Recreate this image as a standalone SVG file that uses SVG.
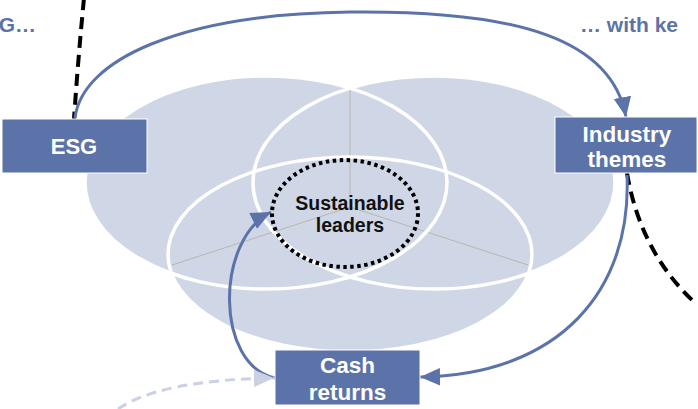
<svg xmlns="http://www.w3.org/2000/svg" width="698" height="409" viewBox="0 0 698 409">
<defs>
<style>
.venn{fill:#cfd6e6;stroke:none}
.vline{fill:none;stroke:#ffffff;stroke-width:3.5}
.axis{stroke:#b9b6ae;stroke-width:1}
.box{fill:#5b73a8;stroke:#ffffff;stroke-width:1}
.bt{font-family:"Liberation Sans",Arial,sans-serif;font-weight:bold;fill:#ffffff;text-anchor:middle}
.hd{font-family:"Liberation Sans",Arial,sans-serif;font-weight:bold;fill:#5b73a8;font-size:21px}
.arr{fill:none;stroke:#5b73a8;stroke-width:3}
.blk{fill:none;stroke:#000000;stroke-width:4;stroke-dasharray:12 7}
</style>
<marker id="ah" markerUnits="userSpaceOnUse" markerWidth="20" markerHeight="20" viewBox="0 0 16 14" refX="16" refY="7" orient="auto">
<path d="M0,0 L16,7 L0,14 Z" fill="#5b73a8"/>
</marker>
<marker id="ahl" markerUnits="userSpaceOnUse" markerWidth="20" markerHeight="20" viewBox="0 0 16 14" refX="16" refY="7" orient="auto">
<path d="M0,0 L16,7 L0,14 Z" fill="#c9d1e3"/>
</marker>
</defs>
<rect width="698" height="409" fill="#ffffff"/>
<g id="venn">
<ellipse class="venn" cx="266" cy="182.5" rx="181" ry="106.6"/>
<ellipse class="venn" cx="434" cy="182.5" rx="181" ry="106.6"/>
<ellipse class="venn" cx="350" cy="254.5" rx="182" ry="97.5"/>
<line class="axis" x1="350" y1="207" x2="350" y2="88"/>
<line class="axis" x1="350" y1="207" x2="172" y2="265"/>
<line class="axis" x1="350" y1="207" x2="528" y2="265"/>
<ellipse class="vline" cx="266" cy="182.5" rx="181" ry="106.6"/>
<ellipse class="vline" cx="434" cy="182.5" rx="181" ry="106.6"/>
<ellipse class="vline" cx="350" cy="254.5" rx="182" ry="97.5"/>
</g>
<g id="headings">
<text class="hd" x="36" y="32" text-anchor="end">G…</text>
<text class="hd" x="580" y="32">… with ke</text>
</g>
<g id="connectors">
<path class="blk" d="M84,-2 Q78,60 74,119"/>
<path class="blk" d="M627,173 Q640,250 692,300"/>
<path class="arr" d="M75,118 C82,60 180,14 350,12 C520,10 612,40 626,117" marker-end="url(#ah)"/>
<path class="arr" d="M627,175 C632,290 560,375 420,377" marker-end="url(#ah)"/>
<path class="arr" d="M275,378 C215,365 215,240 271,212" marker-end="url(#ah)"/>
<path d="M118,409 Q160,380 274,378" fill="none" stroke="#c9d1e3" stroke-width="3" stroke-dasharray="10 6" marker-end="url(#ahl)"/>
</g>
<g id="sustainable-leaders">
<ellipse cx="345" cy="213.5" rx="73" ry="53.5" fill="none" stroke="#000000" stroke-width="4" stroke-dasharray="3.5 3.5"/>
<text x="350" y="210" font-family="'Liberation Sans',Arial,sans-serif" font-weight="bold" font-size="19.5" fill="#111111" text-anchor="middle">Sustainable</text>
<text x="350" y="232" font-family="'Liberation Sans',Arial,sans-serif" font-weight="bold" font-size="19.5" fill="#111111" text-anchor="middle">leaders</text>
</g>
<g id="esg">
<rect class="box" x="2" y="119" width="145" height="54"/>
<text class="bt" x="74" y="154" font-size="22">ESG</text>
</g>
<g id="industry-themes">
<rect class="box" x="555" y="117" width="142" height="56"/>
<text class="bt" x="627" y="142" font-size="22.5">Industry</text>
<text class="bt" x="627" y="167" font-size="22.5">themes</text>
</g>
<g id="cash-returns">
<rect class="box" x="275" y="350" width="145" height="55"/>
<text class="bt" x="347.5" y="373" font-size="22.5">Cash</text>
<text class="bt" x="347.5" y="400" font-size="22.5">returns</text>
</g>
</svg>
